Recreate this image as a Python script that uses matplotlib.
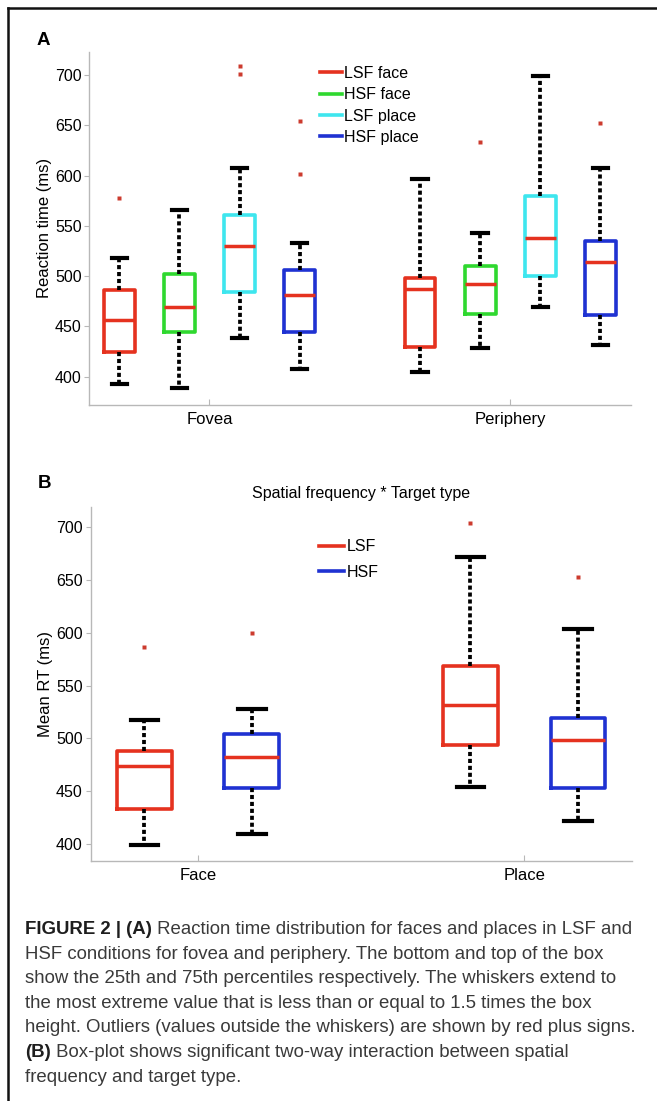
#!/usr/bin/env python3
# -*- coding: utf-8 -*-
"""
Box plots of reaction times (fovea / periphery, LSF / HSF, face / place)
with the figure caption underneath. Saves out.png.
"""
import matplotlib
matplotlib.use("Agg")
import matplotlib.pyplot as plt
from matplotlib.lines import Line2D

plt.rcParams["font.family"] = ["Liberation Sans", "DejaVu Sans"]

# ---- data --------------------------------------------------------------
# order of each stats tuple: whisker low, q1, median, q3, whisker high
A_groups = ["Fovea", "Periphery"]
A_series = ["LSF face", "HSF face", "LSF place", "HSF place"]
A_fovea = [(393, 425, 456, 486, 518), (389, 445, 469, 502, 566),
           (439, 484, 530, 561, 607), (408, 445, 481, 506, 533)]
A_fovea_out = [[578], [], [701, 709], [601, 654]]
A_periph = [(405, 430, 487, 498, 597), (429, 462, 492, 510, 543),
            (469, 500, 538, 580, 699), (432, 461, 514, 535, 607)]
A_periph_out = [[], [633], [], [652]]

B_groups = ["Face", "Place"]
B_series = ["LSF", "HSF"]
B_face = [(399, 433, 474, 488, 517), (409, 453, 482, 504, 528)]
B_face_out = [[587], [600]]
B_place = [(454, 494, 532, 569, 672), (422, 453, 498, 519, 604)]
B_place_out = [[704], [653]]

yticks = [400, 450, 500, 550, 600, 650, 700]

caption = [
    ("FIGURE 2 | (A)", " Reaction time distribution for faces and places in LSF and"),
    ("", "HSF conditions for fovea and periphery. The bottom and top of the box"),
    ("", "show the 25th and 75th percentiles respectively. The whiskers extend to"),
    ("", "the most extreme value that is less than or equal to 1.5 times the box"),
    ("", "height. Outliers (values outside the whiskers) are shown by red plus signs."),
    ("(B)", " Box-plot shows significant two-way interaction between spatial"),
    ("", "frequency and target type."),
]

# ---- style ---------------------------------------------------------------
RED = "#e5321f"
GREEN = "#2fd82f"
CYAN = "#3ee6ee"
BLUE = "#1f32d2"
SPINE = "#b8b8b8"
FS = 11.5


def make_stats(rows, outs):
    stats = []
    for (lo, q1, med, q3, hi), fl in zip(rows, outs):
        stats.append(dict(whislo=lo, q1=q1, med=med, q3=q3, whishi=hi,
                          fliers=fl))
    return stats


def draw_boxes(ax, stats, positions, colors, width):
    art = ax.bxp(stats, positions=positions, widths=width,
                 capwidths=width / 2, patch_artist=False,
                 boxprops=dict(linewidth=2.6),
                 whiskerprops=dict(color="k", linewidth=2.7,
                                   linestyle=(0, (1.1, 0.75))),
                 capprops=dict(color="k", linewidth=3.0),
                 medianprops=dict(color=RED, linewidth=2.5),
                 flierprops=dict(marker="s", markersize=2.3,
                                 markerfacecolor="#cc3b2e",
                                 markeredgecolor="none"),
                 manage_ticks=False)
    for box, c in zip(art["boxes"], colors):
        box.set_color(c)
    return art


def style_axes(ax, xlim, ylim, groups, ylabel):
    ax.set_xlim(*xlim)
    ax.set_ylim(*ylim)
    ax.set_xticks([1, 2])
    ax.set_xticklabels(groups, fontsize=FS + 0.5)
    ax.set_yticks(yticks)
    ax.tick_params(axis="y", labelsize=FS, direction="out", length=3.5,
                   color=SPINE, pad=2)
    ax.tick_params(axis="x", direction="in", length=4, color=SPINE, pad=5)
    for s in ("top", "right"):
        ax.spines[s].set_visible(False)
    for s in ("left", "bottom"):
        ax.spines[s].set_color(SPINE)
        ax.spines[s].set_linewidth(1.0)
    ax.set_ylabel(ylabel, fontsize=FS + 0.5)
    ax.yaxis.set_label_coords(-0.069, 0.5)


def main():
    W, H = 657, 1101
    fig = plt.figure(figsize=(W / 100, H / 100), dpi=100)

    # figure frame (top and left only)
    fig.add_artist(Line2D([8 / W, 1.002], [1 - 7.5 / H] * 2, color="#111111",
                          linewidth=1.8, transform=fig.transFigure))
    fig.add_artist(Line2D([8 / W] * 2, [-0.002, 1 - 7.5 / H], color="#111111",
                          linewidth=1.8, transform=fig.transFigure))

    # ---- panel A ----
    axA = fig.add_axes([89.2 / W, 1 - 405 / H, 541.3 / W, 353.3 / H])
    colA = [RED, GREEN, CYAN, BLUE]
    offA = [-0.3, -0.1, 0.1, 0.3]
    draw_boxes(axA, make_stats(A_fovea, A_fovea_out),
               [1 + o for o in offA], colA, 0.103)
    draw_boxes(axA, make_stats(A_periph, A_periph_out),
               [2 + o for o in offA], colA, 0.103)
    style_axes(axA, (0.6, 2.4), (372, 723), A_groups, "Reaction time (ms)")
    hA = [Line2D([], [], color=c, linewidth=2.6) for c in colA]
    axA.legend(hA, A_series, loc="upper left", bbox_to_anchor=(0.4264, 0.96),
               frameon=False, borderpad=0, borderaxespad=0, handlelength=1.4,
               handletextpad=0.12, labelspacing=0.4, fontsize=FS)

    # ---- panel B ----
    axB = fig.add_axes([90.5 / W, 1 - 860.7 / H, 541.2 / W, 353.4 / H])
    colB = [RED, BLUE]
    offB = [-0.165, 0.165]
    draw_boxes(axB, make_stats(B_face, B_face_out),
               [1 + o for o in offB], colB, 0.168)
    draw_boxes(axB, make_stats(B_place, B_place_out),
               [2 + o for o in offB], colB, 0.168)
    style_axes(axB, (0.67, 2.33), (384, 719), B_groups, "Mean RT (ms)")
    axB.set_title("Spatial frequency * Target type", fontsize=FS, pad=7)
    hB = [Line2D([], [], color=c, linewidth=2.6) for c in colB]
    axB.legend(hB, B_series, loc="upper left", bbox_to_anchor=(0.4226, 0.91),
               frameon=False, borderpad=0, borderaxespad=0, handlelength=1.55,
               handletextpad=0.15, labelspacing=0.68, fontsize=FS)

    # panel letters
    fig.text(36.5 / W, 1 - 45 / H, "A", fontsize=13.5, fontweight="bold",
             va="baseline")
    fig.text(37.5 / W, 1 - 488 / H, "B", fontsize=13.5, fontweight="bold",
             va="baseline")

    # ---- caption ----
    renderer = fig.canvas.get_renderer()
    x0 = 25
    # fit the longest line to the caption width of the reference
    probe = fig.text(0, 0, caption[4][1], fontsize=12)
    cfs = 12 * 615 / probe.get_window_extent(renderer).width
    probe.remove()
    y0, dy = 934, 24.6
    for i, (bold, reg) in enumerate(caption):
        yb = 1 - (y0 + i * dy) / H
        x = x0
        if bold:
            t = fig.text(x / W, yb, bold, fontsize=cfs, fontweight="bold",
                         color="#1e1e1e", va="baseline")
            x = t.get_window_extent(renderer).x1
        fig.text(x / W, yb, reg, fontsize=cfs, color="#3a3a3a",
                 va="baseline")

    fig.savefig("out.png", dpi=100)
    plt.close(fig)
    return 0


if __name__ == "__main__":
    raise SystemExit(main())
